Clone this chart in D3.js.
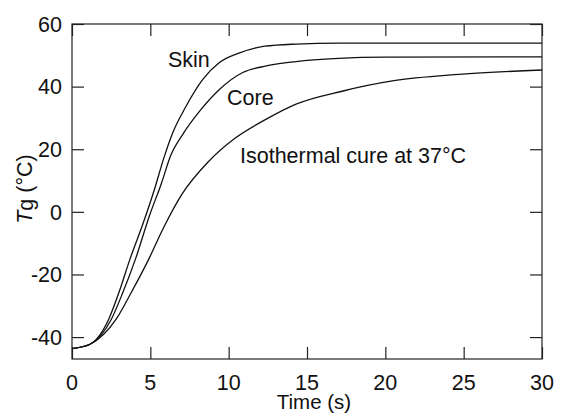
<!DOCTYPE html>
<html>
<head>
<meta charset="utf-8">
<script src="https://cdn.jsdelivr.net/npm/d3@7/dist/d3.min.js"></script>
<style>
  html, body { margin: 0; padding: 0; background: #fff; }
  svg text { font-family: "Liberation Sans", Arial, Helvetica, sans-serif; fill: #111; }
</style>
</head>
<body>
<svg id="chart" width="561" height="414"></svg>
<script>
// ---- data ----
const xTicks = [0, 5, 10, 15, 20, 25, 30];
const yTicks = [-40, -20, 0, 20, 40, 60];

const skinTime  = [0, 1.15, 2.35, 3.0, 3.7, 4.55, 5.25, 5.85, 6.45, 7.2, 8.35, 9.41, 10.7, 12.3, 14.3, 17, 30];
const skinTg    = [-43.7, -42.3, -34.2, -25.7, -15.1, -3.5, 7.0, 17.0, 25.5, 33.0, 42.3, 47.7, 50.8, 52.9, 53.6, 53.9, 53.9];

const coreTime  = [0, 1.15, 2.52, 3.25, 4.05, 4.96, 5.7, 6.3, 7.1, 8.2, 9.41, 10.9, 12.4, 14.3, 17, 20, 30];
const coreTg    = [-43.7, -42.3, -34.2, -25.7, -15.1, -1.0, 9.0, 18.0, 25.0, 32.5, 39.1, 44.5, 46.6, 48.0, 49.0, 49.4, 49.5];

const isoTime   = [0, 1.15, 2.83, 3.79, 4.9, 5.85, 7.0, 8.7, 10.4, 12.4, 14.3, 17.3, 20.45, 24.7, 30];
const isoTg     = [-43.7, -42.3, -34.2, -25.7, -15.1, -5.0, 5.5, 16.0, 23.5, 29.6, 34.4, 38.6, 41.8, 43.9, 45.3];

const seriesNames = ["Skin", "Core", "Isothermal cure at 37°C"];

// ---- layout ----
const svg = d3.select("#chart");
const mLeft = 72, mRight = 542, mTop = 24, mBottom = 359;
const x = d3.scaleLinear().domain([0, 30]).range([mLeft, mRight]);
const y = d3.scaleLinear().domain([-47, 60]).range([mBottom, mTop]);

const tickLen = 12;
const fontSize = 21.5;
const axisColor = "#222";

// frame
svg.append("rect")
  .attr("x", mLeft).attr("y", mTop)
  .attr("width", mRight - mLeft).attr("height", mBottom - mTop)
  .attr("fill", "none").attr("stroke", axisColor).attr("stroke-width", 1.2);

// inward ticks on all four sides via d3 axes
const tickFmt = d => d;
const gBottom = svg.append("g").attr("transform", `translate(0,${mBottom})`)
  .call(d3.axisTop(x).tickValues(xTicks).tickSize(tickLen).tickFormat(""));
const gTop = svg.append("g").attr("transform", `translate(0,${mTop})`)
  .call(d3.axisBottom(x).tickValues(xTicks).tickSize(tickLen).tickFormat(""));
const gLeft = svg.append("g").attr("transform", `translate(${mLeft},0)`)
  .call(d3.axisRight(y).tickValues(yTicks).tickSize(tickLen).tickFormat(""));
const gRight = svg.append("g").attr("transform", `translate(${mRight},0)`)
  .call(d3.axisLeft(y).tickValues(yTicks).tickSize(tickLen).tickFormat(""));
[gBottom, gTop, gLeft, gRight].forEach(g => {
  g.select(".domain").remove();
  g.selectAll(".tick line").attr("stroke", axisColor).attr("stroke-width", 1.2);
});

// tick labels
svg.append("g").selectAll("text").data(xTicks).join("text")
  .attr("x", d => x(d)).attr("y", 390)
  .attr("text-anchor", "middle")
  .attr("font-size", fontSize)
  .text(tickFmt);
svg.append("g").selectAll("text").data(yTicks).join("text")
  .attr("x", 62).attr("y", d => y(d))
  .attr("dy", "0.36em")
  .attr("text-anchor", "end")
  .attr("font-size", fontSize)
  .text(tickFmt);

// axis titles
svg.append("text")
  .attr("x", 314).attr("y", 409)
  .attr("text-anchor", "middle")
  .attr("font-size", 20.5)
  .text("Time (s)");

const yl = svg.append("text")
  .attr("transform", "translate(32,189) rotate(-90)")
  .attr("text-anchor", "middle")
  .attr("font-size", fontSize);
yl.append("tspan").attr("font-style", "italic").text("T");
yl.append("tspan").attr("dy", 1).text("g");
yl.append("tspan").attr("dy", -1).text(" (°C)");

// curves
const line = d3.line()
  .x(d => x(d[0])).y(d => y(d[1]))
  .curve(d3.curveMonotoneX);
const series = [
  d3.zip(skinTime, skinTg),
  d3.zip(coreTime, coreTg),
  d3.zip(isoTime, isoTg)
];
svg.append("g").selectAll("path").data(series).join("path")
  .attr("d", line)
  .attr("fill", "none")
  .attr("stroke", "#111")
  .attr("stroke-width", 1.3);

// curve labels
const labelPos = [[168, 67], [227, 105], [240, 163]];
svg.append("g").selectAll("text").data(seriesNames).join("text")
  .attr("x", (d, i) => labelPos[i][0])
  .attr("y", (d, i) => labelPos[i][1])
  .attr("font-size", fontSize)
  .text(d => d);
</script>
</body>
</html>
